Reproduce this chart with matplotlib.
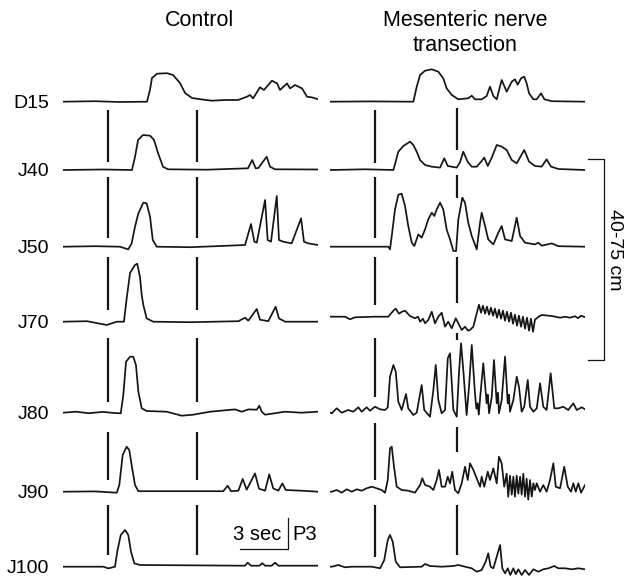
"""
Motility traces, control vs mesenteric nerve transection.
Each trace is a list of (time s, amplitude) points read off the recording.
"""

import matplotlib
matplotlib.use("Agg")
import matplotlib.pyplot as plt

plt.rcParams["font.family"] = ["Liberation Sans", "DejaVu Sans"]

W_PX, H_PX = 625, 581
SPAN_S = 255 / 16          # length of one recording window, seconds

ROWS = ["D15", "J40", "J50", "J70", "J80", "J90", "J100"]
ROW_BASE = [101.7, 170, 246.7, 321.7, 412.7, 491.7, 566.7]   # layout, px from top

# --- control recordings (t, amplitude) ---
CTRL_D15 = [(0, 0), (2.0, 0.5), (3.5, -0.3), (5.25, 0), (5.44, 12), (5.56, 23.7),
            (5.88, 28), (6.5, 28.5), (6.88, 26.7), (7.31, 18.7), (7.63, 8.7),
            (8.06, 3.7), (8.56, 2.5), (9.3, 1), (10.13, 1.7), (10.94, 1.7),
            (11.5, 5), (11.69, 6.7), (11.88, 3.3), (12.31, 14.4), (12.56, 11.7),
            (13.06, 21), (13.38, 18.3), (13.56, 11.7), (14.0, 18.3), (14.19, 13.3),
            (14.5, 16.7), (14.94, 13.3), (15.25, 5), (15.56, 4.3), (15.94, 2.5)]
CTRL_J40 = [(0, 0), (2.5, 0.5), (4.31, 0), (4.5, 13), (4.69, 30), (5.0, 35),
            (5.44, 34.3), (5.69, 30), (5.94, 17), (6.25, 3.3), (6.56, 0.7),
            (9.0, 0.3), (11.56, 1.7), (11.83, 10), (12.04, 1.7), (12.21, 2),
            (12.73, 13.3), (12.94, 3.3), (13.25, 0.7), (15.94, 0.5)]
CTRL_J50 = [(0, 0), (2.0, 0.5), (3.56, 0), (4.08, -2.7), (4.29, 3.3), (4.5, 20),
            (4.71, 33.3), (5.02, 44), (5.23, 43.3), (5.44, 30), (5.61, 6.7),
            (5.86, 0), (8.0, -0.5), (11.38, 1.7), (11.75, 22.7), (11.96, 5),
            (12.11, 4), (12.63, 46.7), (12.79, 6.7), (13.0, 5), (13.36, 50.7),
            (13.5, 6.7), (13.77, 5), (14.29, 3.3), (14.88, 28.3), (15.06, 5),
            (15.33, 3.3), (15.94, 1.7)]
CTRL_J70 = [(0, 0), (1.5, 0.5), (2.73, -3.3), (3.36, 0), (3.81, 0), (3.98, 23.3),
            (4.19, 48.7), (4.5, 56.7), (4.64, 58), (4.81, 45), (4.92, 26.7),
            (5.02, 16.7), (5.23, 3.3), (5.64, 0), (8.0, -0.5), (10.96, 0.5),
            (11.38, 4), (11.58, 1), (12.11, 12.7), (12.31, 2), (12.83, 0.5),
            (13.29, 15), (13.5, 3.3), (13.88, 0), (15.94, 0)]
CTRL_J80 = [(0, 0), (0.8, 1), (1.6, -0.5), (2.5, 0.8), (3.2, -0.3), (3.61, -0.6),
            (3.77, 17.7), (3.94, 51), (4.19, 56), (4.39, 56), (4.56, 47.7),
            (4.71, 21), (4.92, 4.4), (5.23, 1.7), (6.48, 1), (7.42, -3),
            (8.14, -2), (9.19, 1), (10.75, 3.3), (11.17, 1), (11.58, 3.3),
            (12.11, 3), (12.27, 7), (12.42, 1), (12.63, -2), (13.88, 1),
            (14.9, 0), (15.94, 1)]
CTRL_J90 = [(0, 0), (2.0, 0.3), (3.36, -1), (3.52, 6.7), (3.73, 36.7), (3.98, 45),
            (4.14, 41.7), (4.29, 26.7), (4.5, 6.7), (4.71, 0.5), (10.02, 0.5),
            (10.29, 6), (10.5, 0.5), (10.96, 1), (11.23, 12.7), (11.48, 2),
            (12.0, 18.3), (12.25, 3), (12.63, 1), (12.89, 17.3), (13.14, 3.3),
            (13.46, 1), (13.71, 8.3), (13.92, 1.7), (14.9, 1), (15.94, 0)]
CTRL_J100 = [(0, 0), (2.52, 0), (2.83, -1.7), (3.25, 0), (3.39, 15), (3.61, 31.7),
             (3.88, 36.7), (4.08, 31.7), (4.25, 15), (4.46, 3.3), (4.81, 1.7),
             (11.38, 1), (11.54, 4), (11.75, 1), (12.27, 1), (12.46, 3.5),
             (12.63, 1), (13.04, 1), (13.25, 4), (13.46, 1), (15.94, 1)]

# --- mesenteric nerve transection (t, amplitude) ---
TRANS_D15 = [(0, 0), (2.5, 0.3), (5.21, 0), (5.42, 15), (5.63, 26.7), (5.94, 31),
             (6.36, 32.4), (6.77, 30), (7.08, 23.4), (7.29, 13.4), (7.61, 6.7),
             (8.02, 2.4), (8.64, 3.4), (8.86, 6), (9.06, 2.4), (9.48, 2.4),
             (9.79, 5.7), (10.0, 15), (10.21, 5.7), (10.42, 2.4), (10.73, 21.7),
             (11.04, 10), (11.36, 20), (11.56, 22.4), (11.73, 17), (11.94, 23.4),
             (12.14, 25), (12.29, 18.4), (12.44, 8.4), (12.71, 2.4), (12.92, 2.4),
             (13.19, 8.4), (13.4, 2.4), (13.86, 0.5), (15.94, 0)]
TRANS_J40 = [(0, 0), (2.19, 0.7), (3.96, 0), (4.06, 5.7), (4.27, 18.3), (4.58, 24),
             (5.0, 28.3), (5.21, 25), (5.42, 18.3), (5.63, 10), (5.94, 5),
             (6.36, 3.3), (6.88, 2.4), (7.14, 11.7), (7.36, 4), (7.61, 3.3),
             (7.92, 2.4), (8.13, 8), (8.33, 18.3), (8.61, 8), (8.86, 3.3),
             (9.17, 3.3), (9.48, 9), (9.64, 12.4), (9.86, 4), (10.11, 12.4),
             (10.42, 25), (10.73, 23.4), (11.04, 20), (11.36, 10), (11.67, 6.7),
             (12.14, 20), (12.44, 8.4), (12.81, 4), (13.23, 3.4), (13.54, 10.7),
             (13.81, 3.4), (14.27, 1), (15.94, 0)]
TRANS_J50 = [(0, 0), (3.64, 0), (3.75, -2.7), (3.86, 10.7), (4.06, 37), (4.27, 52),
             (4.48, 53), (4.69, 40.7), (4.89, 20.7), (5.11, 4), (5.27, 0.7),
             (5.52, 12.3), (5.73, 9), (5.94, 17.3), (6.14, 27.3), (6.36, 34),
             (6.52, 30.7), (6.67, 37.3), (6.88, 44), (7.08, 37.3), (7.29, 17.3),
             (7.5, 7.3), (7.71, -4.3), (7.88, -4.3), (8.02, 27.3), (8.27, 49),
             (8.44, 44), (8.64, 24), (8.86, 10.7), (9.17, -2.7), (9.38, 24),
             (9.48, 34), (9.69, 20.7), (9.89, 7.3), (10.21, 2.3), (10.52, 14),
             (10.73, 20.7), (10.94, 7.3), (11.36, 5.7), (11.67, 29), (11.88, 10.7),
             (12.19, 4), (12.81, 2.3), (13.02, 4), (13.23, 1), (13.86, 3.3),
             (14.27, 0.5), (15.94, 0)]
TRANS_J70 = [(0, 5), (0.94, 5), (1.25, 2.4), (1.56, 4.4), (2.81, 5), (3.64, 5),
             (3.96, 11), (4.11, 13), (4.31, 8), (4.5, 10), (4.69, 11), (5.0, 5.7),
             (5.31, 3.4), (5.5, 5), (5.63, 0), (5.81, 3), (5.94, -1.6), (6.14, 1.7),
             (6.36, 10), (6.56, -1.6), (6.77, 5), (6.98, 9), (7.19, -5), (7.39, 0),
             (7.61, -6.6), (7.86, 3.4), (8.02, -1.6), (8.23, -8.3), (8.44, -5),
             (8.63, -9), (8.75, -8.3), (8.96, -5), (9.17, 8.4), (9.31, 17),
             (9.44, 9), (9.56, 16), (9.69, 8), (9.81, 15), (9.94, 7), (10.06, 14),
             (10.19, 6), (10.31, 13), (10.44, 4), (10.56, 12), (10.69, 3),
             (10.81, 11), (10.94, 1), (11.06, 10), (11.19, 0), (11.31, 9),
             (11.44, -2), (11.56, 7), (11.69, -4), (11.81, 6), (11.94, -5),
             (12.06, 5), (12.19, -7), (12.31, 4), (12.44, -9), (12.56, 3),
             (12.69, -10), (12.81, 2), (13.04, 5), (13.23, 6.7), (13.86, 5.7),
             (14.38, 4), (14.69, 5), (15.0, 4), (15.31, 5.5), (15.5, 3.5),
             (15.69, 6), (15.94, 4.5)]
TRANS_J80 = [(0, 0), (0.11, -0.6), (0.42, 4.4), (0.73, 0), (1.14, 2.7), (1.46, 1),
             (1.77, 5.4), (1.98, 1), (2.29, 5.4), (2.5, 2), (2.81, 6), (3.13, 3.4),
             (3.44, 2.7), (3.61, 5.4), (3.75, 36), (3.96, 47.7), (4.11, 41),
             (4.27, 11), (4.48, 2.7), (4.75, 18.7), (4.89, 4.4), (5.21, -2.3),
             (5.42, 0), (5.73, 27.7), (5.89, 2.7), (6.25, -4), (6.46, 22.7),
             (6.61, 47.7), (6.77, 12.7), (6.98, -0.6), (7.19, 2.7), (7.36, 54.4),
             (7.5, 59.4), (7.71, 2.7), (7.92, -4), (8.06, 39.4), (8.19, 69.4),
             (8.33, 42.7), (8.54, -2.3), (8.69, 26), (8.86, 67.7), (9.06, 19.4),
             (9.15, 4), (9.23, 9.4), (9.3, -2), (9.38, 14.4), (9.58, 49.4),
             (9.79, 9.4), (9.86, 18), (9.94, -0.6), (10.11, 16), (10.25, 52.7),
             (10.42, 9.4), (10.5, 20), (10.56, -0.6), (10.73, 12.7), (10.94, 56),
             (11.11, 9.4), (11.18, 18), (11.25, 1), (11.46, 12.7), (11.67, 36),
             (11.81, 26), (11.98, 1), (12.14, 6), (12.36, 32.7), (12.5, 6),
             (12.71, 1), (12.92, 4.4), (13.13, 29.4), (13.33, 6), (13.54, 2.7),
             (13.79, 39.4), (14.02, 4.4), (14.27, 4.4), (14.58, 6), (14.89, 2.7),
             (15.21, 9.4), (15.42, 2.7), (15.73, 5.4), (15.94, 3.4)]
TRANS_J90 = [(0, 0), (0.11, 0), (0.42, 1.7), (0.73, -1), (1.04, 2.4), (1.36, 0),
             (1.67, 2.4), (1.98, 1), (2.29, 3.4), (2.61, 5), (2.92, 3.4), (3.23, 1.7),
             (3.44, -1), (3.61, 11.7), (3.75, 43.4), (3.86, 45), (4.0, 25),
             (4.17, 5), (4.48, 1.7), (4.89, 1), (5.31, -1), (5.63, 6.7), (5.77, 13.4),
             (5.94, 6.7), (6.25, 5), (6.46, 1.7), (6.67, 11.7), (6.81, 21.7),
             (6.98, 5), (7.19, 5), (7.36, 15), (7.5, 8.4), (7.64, 20), (7.81, 1.7),
             (8.02, -1.6), (8.23, 8.4), (8.44, 25), (8.61, 11.7), (8.75, 28.4),
             (8.96, 21.7), (9.17, 13.4), (9.38, 5), (9.48, 15), (9.64, 5),
             (9.86, 20), (10.0, 11.7), (10.21, 23.4), (10.42, 8.4), (10.56, 35),
             (10.73, 28.4), (10.89, 5), (11.04, 18), (11.14, -5), (11.25, 16),
             (11.36, -3), (11.46, 15), (11.56, -5), (11.67, 16), (11.77, -2),
             (11.88, 15), (11.98, -3), (12.08, 18), (12.19, -5), (12.29, 13),
             (12.39, -8), (12.5, 11.7), (12.61, -5), (12.71, 8.4), (12.81, 1.7),
             (12.92, 8.4), (13.13, 0), (13.33, 6.7), (13.54, 0), (13.75, 11.7),
             (13.96, 28.4), (14.11, 5), (14.38, 3.4), (14.64, 25), (14.86, 5),
             (15.06, 0), (15.21, 8.4), (15.36, 0), (15.52, 8.4), (15.69, -1),
             (15.94, 6.7)]
TRANS_J100 = [(0, 0), (0.11, 0), (0.52, 1.7), (0.94, -0.6), (1.36, 0), (2.61, 0),
              (3.13, -1.6), (3.39, 6.7), (3.61, 26.7), (3.75, 31.7), (3.92, 25),
              (4.11, 5), (4.38, -0.6), (5.73, 0), (5.94, 2.7), (6.25, 0.7),
              (6.98, 0), (7.71, 0.7), (8.02, 1.7), (8.44, 0), (8.86, -1.6),
              (9.17, -5), (9.48, -3.3), (9.73, 5), (9.89, 13.4), (10.04, 0),
              (10.21, -1.6), (10.42, 10), (10.63, 21.7), (10.77, -1.6),
              (10.94, -6.6), (11.11, -1.6), (11.27, -8.3), (11.46, -1.6),
              (11.61, -7.4), (11.77, -2.6), (11.98, -8.3), (12.19, -3.3),
              (12.44, -8.3), (12.71, -2.6), (13.02, -5), (13.33, -2.6),
              (13.65, -1.6), (14.02, 0.7), (14.27, -1.6), (14.69, -1.6),
              (15.11, -2.6), (15.52, -1.6), (15.94, -2.6)]

CONTROL = [CTRL_D15, CTRL_J40, CTRL_J50, CTRL_J70, CTRL_J80, CTRL_J90, CTRL_J100]
TRANSECTION = [TRANS_D15, TRANS_J40, TRANS_J50, TRANS_J70, TRANS_J80, TRANS_J90, TRANS_J100]

# event markers: time (s) and the vertical pieces drawn between traces
CTRL_MARK_T = [2.83, 8.36]
TRANS_MARK_T = [2.81, 7.92]
FULL_SPANS = [(110, 162), (177, 238), (257, 310), (338, 402), (432, 480), (505, 555)]
TRANS_SPANS_1 = [(110, 163), (177, 238), (257, 305), (338, 397), (423, 480), (505, 557)]
TRANS_SPANS_2 = [(108, 150), (175, 198), (257, 303), (333, 340), (427, 452), (505, 555)]

SCALE_SEC = 3
SCALE_T0 = 11.06

INK = "#151515"


def draw_traces(ax, traces):
    for rec, base in zip(traces, ROW_BASE):
        t = [p[0] for p in rec]
        y = [base - p[1] for p in rec]
        ax.plot(t, y, color=INK, lw=1.25, solid_joinstyle="round")


def draw_markers(ax, times, spans_list):
    for t, spans in zip(times, spans_list):
        for top, bot in spans:
            ax.plot([t, t], [top, bot], color=INK, lw=1.6, solid_capstyle="butt")


def setup_axes(ax):
    ax.set_xlim(0, SPAN_S)
    ax.set_ylim(H_PX, 0)
    for s in ax.spines.values():
        s.set_visible(False)
    ax.set_xticks([])
    ax.set_yticks([])
    ax.patch.set_alpha(0)


def main():
    fig = plt.figure(figsize=(W_PX / 100, H_PX / 100), dpi=100)

    ax_c = fig.add_axes([63 / W_PX, 0, 255 / W_PX, 1])
    ax_t = fig.add_axes([330 / W_PX, 0, 255 / W_PX, 1])
    setup_axes(ax_c)
    setup_axes(ax_t)

    draw_traces(ax_c, CONTROL)
    draw_traces(ax_t, TRANSECTION)
    draw_markers(ax_c, CTRL_MARK_T, [FULL_SPANS, FULL_SPANS])
    draw_markers(ax_t, TRANS_MARK_T, [TRANS_SPANS_1, TRANS_SPANS_2])

    # row labels
    ax_c.set_yticks(ROW_BASE)
    ax_c.set_yticklabels(ROWS, fontsize=14)
    ax_c.tick_params(axis="y", length=0, pad=10)

    # scale bar 3 sec / P3
    t1 = SCALE_T0 + SCALE_SEC
    ax_c.plot([SCALE_T0, t1, t1], [549, 549, 518], color=INK, lw=0.9)
    ax_c.text(SCALE_T0 + 1.1, 534, "3 sec", fontsize=14.5, ha="center", va="center")
    ax_c.text(t1 + 0.3, 534, "P3", fontsize=14.5, ha="left", va="center")

    # bracket 40-75 cm
    ax_t.plot([16.125, 17.125, 17.125, 16.125], [159, 159, 360, 360],
              color=INK, lw=0.9, clip_on=False)
    ax_t.text(17.75, 250, "40-75 cm", fontsize=14, rotation=270,
              ha="center", va="center", clip_on=False)

    # column titles
    fig.text(200 / W_PX, 1 - 20 / H_PX, "Control", fontsize=15.5,
             ha="center", va="center")
    fig.text(465 / W_PX, 1 - 33 / H_PX, "Mesenteric nerve\ntransection",
             fontsize=15.5, ha="center", va="center", linespacing=1.2)

    fig.savefig("out.png", dpi=100, facecolor="white")
    plt.close(fig)


if __name__ == "__main__":
    main()
